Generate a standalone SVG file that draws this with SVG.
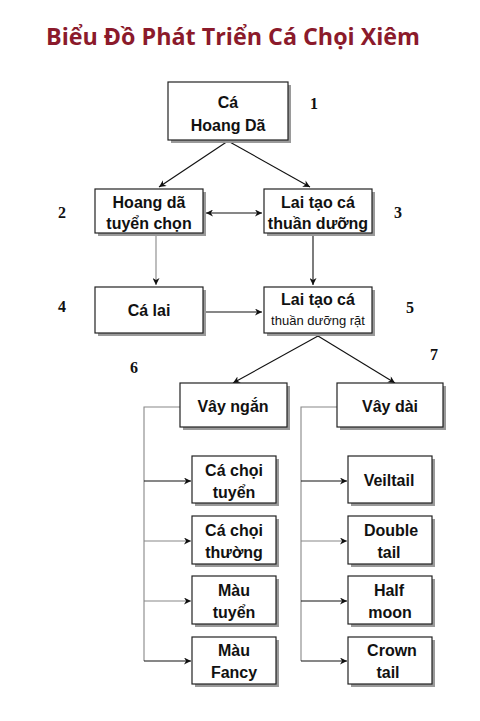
<svg xmlns="http://www.w3.org/2000/svg" width="480" height="721" viewBox="0 0 480 721">
<defs>
<style>
.box{fill:#fff;stroke:#222;stroke-width:1.2}
.sh{fill:#9a9a9a}
.t{font-family:"Liberation Sans",Arial,sans-serif;font-weight:bold;font-size:16px;fill:#111;text-anchor:middle}
.s{font-family:"Liberation Sans",Arial,sans-serif;font-size:13px;fill:#111;text-anchor:middle}
.n{font-family:"Liberation Serif","Times New Roman",serif;font-weight:bold;font-size:16px;fill:#111;text-anchor:middle}
.c{stroke:#111;stroke-width:1.1;fill:none}
.g{stroke:#888;stroke-width:1.1;fill:none}
</style>
<marker id="ah" viewBox="0 0 10 10" refX="10" refY="5" markerWidth="9" markerHeight="7" markerUnits="userSpaceOnUse" orient="auto-start-reverse">
<path d="M0,0 L10,5 L0,10 L3,5 Z" fill="#111"/>
</marker>
</defs>
<rect width="480" height="721" fill="#fff"/>
<text x="233" y="45" font-family="'Open Sans','Liberation Sans',sans-serif" font-weight="bold" font-size="24" fill="#8b1a2b" text-anchor="middle" textLength="374" lengthAdjust="spacingAndGlyphs">Biểu Đồ Phát Triển Cá Chọi Xiêm</text>

<g id="connectors">
<line class="c" x1="228" y1="141" x2="159" y2="187" marker-end="url(#ah)"/>
<line class="c" x1="228" y1="141" x2="310" y2="187" marker-end="url(#ah)"/>
<line class="c" x1="206" y1="213" x2="262" y2="213" marker-start="url(#ah)" marker-end="url(#ah)"/>
<line class="g" x1="156" y1="236" x2="156" y2="285" marker-end="url(#ah)"/>
<line class="c" x1="313" y1="236" x2="313" y2="285" marker-end="url(#ah)"/>
<line class="c" x1="206" y1="312" x2="262" y2="312" marker-end="url(#ah)"/>
<line class="c" x1="318" y1="336" x2="233" y2="383" marker-end="url(#ah)"/>
<line class="c" x1="318" y1="336" x2="395" y2="383" marker-end="url(#ah)"/>
<polyline class="g" points="180,407 144,407 144,661"/>
<line class="c" x1="144" y1="481" x2="191" y2="481" marker-end="url(#ah)"/>
<line class="g" x1="144" y1="541" x2="191" y2="541" marker-end="url(#ah)"/>
<line class="g" x1="144" y1="601" x2="191" y2="601" marker-end="url(#ah)"/>
<line class="c" x1="144" y1="661" x2="191" y2="661" marker-end="url(#ah)"/>
<polyline class="g" points="337,407 301,407 301,661"/>
<line class="c" x1="301" y1="481" x2="347" y2="481" marker-end="url(#ah)"/>
<line class="g" x1="301" y1="541" x2="347" y2="541" marker-end="url(#ah)"/>
<line class="c" x1="301" y1="601" x2="347" y2="601" marker-end="url(#ah)"/>
<line class="c" x1="301" y1="661" x2="347" y2="661" marker-end="url(#ah)"/>
</g>

<g id="n1"><rect class="sh" x="171" y="85" width="120" height="58"/><rect class="box" x="168" y="82" width="120" height="58"/>
<text class="t" x="228" y="108">Cá</text><text class="t" x="228" y="131">Hoang Dã</text></g>
<g id="n2"><rect class="sh" x="98" y="192" width="108" height="44"/><rect class="box" x="95" y="189" width="108" height="44"/>
<text class="t" x="149" y="208">Hoang dã</text><text class="t" x="149" y="229">tuyển chọn</text></g>
<g id="n3"><rect class="sh" x="267" y="192" width="108" height="44"/><rect class="box" x="264" y="189" width="108" height="44"/>
<text class="t" x="318" y="208">Lai tạo cá</text><text class="t" x="318" y="229">thuần dưỡng</text></g>
<g id="n4"><rect class="sh" x="98" y="290" width="108" height="46"/><rect class="box" x="95" y="287" width="108" height="46"/>
<text class="t" x="149" y="316">Cá lai</text></g>
<g id="n5"><rect class="sh" x="267" y="290" width="108" height="46"/><rect class="box" x="264" y="287" width="108" height="46"/>
<text class="t" x="318" y="305">Lai tạo cá</text><text class="s" x="318" y="325">thuần dưỡng rặt</text></g>
<g id="n6"><rect class="sh" x="183" y="386" width="107" height="44"/><rect class="box" x="180" y="383" width="107" height="44"/>
<text class="t" x="233" y="412">Vây ngắn</text></g>
<g id="n7"><rect class="sh" x="340" y="386" width="106" height="44"/><rect class="box" x="337" y="383" width="106" height="44"/>
<text class="t" x="390" y="412">Vây dài</text></g>

<g id="l1"><rect class="sh" x="195" y="459" width="84" height="47"/><rect class="box" x="192" y="456" width="84" height="47"/>
<text class="t" x="234" y="476">Cá chọi</text><text class="t" x="234" y="498">tuyển</text></g>
<g id="l2"><rect class="sh" x="195" y="519" width="84" height="48"/><rect class="box" x="192" y="516" width="84" height="48"/>
<text class="t" x="234" y="536">Cá chọi</text><text class="t" x="234" y="558">thường</text></g>
<g id="l3"><rect class="sh" x="195" y="579" width="84" height="48"/><rect class="box" x="192" y="576" width="84" height="48"/>
<text class="t" x="234" y="596">Màu</text><text class="t" x="234" y="618">tuyển</text></g>
<g id="l4"><rect class="sh" x="195" y="640" width="84" height="47"/><rect class="box" x="192" y="637" width="84" height="47"/>
<text class="t" x="234" y="656">Màu</text><text class="t" x="234" y="678">Fancy</text></g>

<g id="r1"><rect class="sh" x="351" y="459" width="84" height="47"/><rect class="box" x="348" y="456" width="84" height="47"/>
<text class="t" x="389" y="486">Veiltail</text></g>
<g id="r2"><rect class="sh" x="351" y="519" width="84" height="48"/><rect class="box" x="348" y="516" width="84" height="48"/>
<text class="t" x="391" y="536">Double</text><text class="t" x="389" y="558">tail</text></g>
<g id="r3"><rect class="sh" x="351" y="579" width="84" height="48"/><rect class="box" x="348" y="576" width="84" height="48"/>
<text class="t" x="389" y="596">Half</text><text class="t" x="390" y="618">moon</text></g>
<g id="r4"><rect class="sh" x="351" y="640" width="84" height="47"/><rect class="box" x="348" y="637" width="84" height="47"/>
<text class="t" x="392" y="656">Crown</text><text class="t" x="388" y="678">tail</text></g>

<g id="labels">
<text class="n" x="314" y="109">1</text>
<text class="n" x="62" y="218">2</text>
<text class="n" x="398" y="218">3</text>
<text class="n" x="62" y="312">4</text>
<text class="n" x="410" y="313">5</text>
<text class="n" x="134" y="373">6</text>
<text class="n" x="434" y="360">7</text>
</g>
</svg>
